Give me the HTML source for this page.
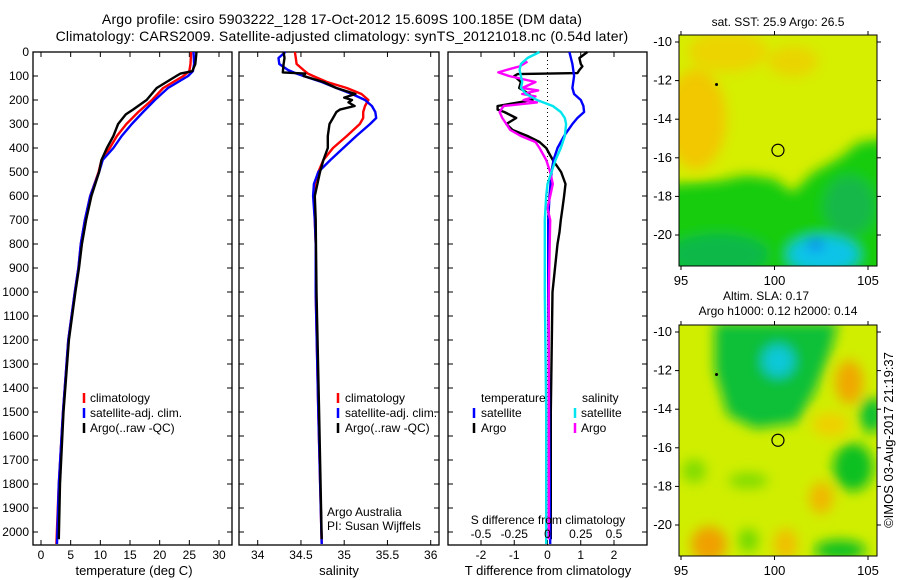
<!DOCTYPE html>
<html><head><meta charset="utf-8"><style>
html,body{margin:0;padding:0;background:#fff;}
svg{display:block;font-family:"Liberation Sans",sans-serif;}
text{font-size:12px;fill:#000;}
text.big{font-size:14px;letter-spacing:0.2px;}
text.ax{font-size:13px;}
</style></head><body>
<svg id="c" width="900" height="580" xmlns="http://www.w3.org/2000/svg">
<defs>
<filter id="bl" x="-50%" y="-50%" width="200%" height="200%"><feGaussianBlur stdDeviation="6"/></filter>
<clipPath id="cm1"><rect x="679" y="35" width="198" height="231"/></clipPath>
<clipPath id="cm2"><rect x="679" y="325" width="198" height="231"/></clipPath>
</defs>
<text class="big" x="342" y="24" text-anchor="middle">Argo profile: csiro 5903222_128 17-Oct-2012 15.609S 100.185E (DM data)</text>
<text class="big" x="342" y="41" text-anchor="middle">Climatology: CARS2009. Satellite-adjusted climatology: synTS_20121018.nc (0.54d later)</text>
<g id="p1"></g>
<g id="p2"></g>
<g id="p3"></g>
<g id="m1"></g>
<g id="m2"></g>
<text class="ax" transform="translate(893,440) rotate(-90)" text-anchor="middle">©IMOS 03-Aug-2017 21:19:37</text>
</svg>
<script>
// ---- data ----
const tDepth = [0,50,80,100,150,200,250,300,350,400,450,500,600,700,800,900,1000,1200,1500,1800,2050];
const tClim = [25.3,25.2,25.0,24.0,20.6,18.7,16.4,14.4,12.8,11.6,10.2,9.7,8.3,7.4,6.7,6.3,5.7,4.6,3.7,3.0,2.6];
const tSat = [25.7,25.8,25.6,24.8,21.4,19.2,17.2,15.3,13.6,12.2,10.4,9.8,8.3,7.4,6.7,6.3,5.7,4.6,3.7,3.0,2.7];
const tArgoDepth = [0,50,80,90,100,150,200,240,260,300,350,400,450,500,600,700,800,900,1000,1200,1500,1800,2030];
const tArgo = [26.2,26.0,25.5,23.5,22.8,19.5,17.8,15.5,14.3,13.0,12.2,11.1,10.2,9.8,8.5,7.6,6.9,6.4,5.8,4.7,3.8,3.2,3.0];

const sDepth = [0,25,50,75,90,100,125,150,175,200,225,250,275,300,350,400,450,500,550,600,700,800,1000,1500,2050];
const sClim = [34.43,34.44,34.45,34.53,34.58,34.64,34.80,35.03,35.20,35.28,35.24,35.22,35.22,35.18,35.03,34.87,34.76,34.70,34.66,34.65,34.66,34.67,34.67,34.70,34.74];
const sSat = [34.32,34.24,34.25,34.35,34.45,34.53,34.74,34.91,35.09,35.24,35.32,35.36,35.37,35.30,35.14,34.99,34.84,34.70,34.65,34.64,34.66,34.67,34.67,34.70,34.74];
const sArgoDepth = [0,25,50,85,90,100,125,150,175,190,200,210,225,240,250,275,300,350,400,450,500,600,700,1000,1500,2030];
const sArgo = [34.30,34.31,34.30,34.29,34.55,34.53,34.76,34.91,35.13,35.00,35.09,35.05,35.12,34.95,34.91,34.87,34.83,34.81,34.81,34.76,34.72,34.66,34.67,34.68,34.71,34.74];

const dtSatDepth = [0,50,100,150,175,200,225,250,275,300,350,400,450,500,600,700,1000,1500,2050];
const dtSat = [0.66,0.75,0.8,0.75,0.8,1.0,1.08,1.1,0.9,0.75,0.5,0.3,0.18,0.12,0.06,0.02,0.02,0.05,0.08];
const dtArgoDepth = [0,25,50,60,75,88,92,100,125,150,175,200,225,240,250,275,300,325,350,375,400,450,500,550,600,650,700,750,800,1000,1500,2030];
const dtArgo = [1.2,0.96,1.0,1.05,0.96,0.9,-0.9,-1.0,-0.8,-0.85,-0.55,-0.45,-1.5,-1.5,-1.3,-0.94,-1.24,-1.05,-0.6,-0.24,-0.04,0.16,0.41,0.54,0.5,0.45,0.4,0.36,0.3,0.15,0.1,0.1];
const dsSatDepth = [0,25,50,75,100,125,150,175,200,225,250,275,300,350,400,450,500,550,600,700,1000,1500,2050];
const dsSat = [-0.06,-0.15,-0.2,-0.21,-0.2,-0.19,-0.2,-0.16,-0.08,0.04,0.1,0.13,0.14,0.13,0.1,0.06,0.03,0,-0.01,-0.02,-0.02,-0.01,-0.01];
const dsArgoDepth = [40,60,75,85,100,125,150,160,175,185,200,210,225,250,275,300,325,350,375,400,450,500,550,600,650,700,1000,1500,2030];
const dsArgo = [-0.15,-0.21,-0.31,-0.37,-0.29,-0.09,-0.19,-0.07,-0.19,-0.09,-0.18,-0.08,-0.33,-0.36,-0.34,-0.31,-0.28,-0.2,-0.09,-0.06,-0.01,0.02,0.04,0.02,0,0.02,0.01,0.01,0.01];

const tTicks = [0,5,10,15,20,25,30];
const sTicks = [34,34.5,35,35.5,36];
const dtTicks = [-2,-1,0,1,2];
const dsTicks = [-0.5,-0.25,0,0.25,0.5];
const dsTickLabels = ['-0.5','-0.25','0','0.25','0.5'];
const depthTicks = [0,100,200,300,400,500,600,700,800,900,1000,1100,1200,1300,1400,1500,1600,1700,1800,1900,2000];
const lonTicks = [95,100,105];
const latTicks = [-10,-12,-14,-16,-18,-20];

// ---- helpers ----
const NS='http://www.w3.org/2000/svg';
function mk(tag, attrs, parent){const e=document.createElementNS(NS,tag);for(const k in attrs)e.setAttribute(k,attrs[k]);parent.appendChild(e);return e;}
const TOP=52, BOT=545;
const yD = d => TOP + d*0.24;
function lin(v0,p0,v1,p1){return v=>p0+(v-v0)*(p1-p0)/(v1-v0);}
const xT = lin(0,41,30,219);
const xS = lin(34,257.7,36,430.7);
const xDT = lin(-2,481,2,614);
const xDS = lin(-0.5,481,0.5,614);

function frame(g,x0,x1,name){
  const r=mk('rect',{x:x0,y:TOP,width:x1-x0,height:BOT-TOP,fill:'none',stroke:'#000','stroke-width':1.3},g);
  
  
}
function yTicks(g,x0,x1,labels){
  depthTicks.forEach(d=>{
    const y=yD(d);
    mk('line',{x1:x0,y1:y,x2:x0+5,y2:y,stroke:'#000'},g);
    mk('line',{x1:x1,y1:y,x2:x1-5,y2:y,stroke:'#000'},g);
    if(labels){const t=mk('text',{x:x0-4,y:y+4,'text-anchor':'end'},g);t.textContent=d;
      
      }
  });
}
function xTicks(g,ticks,fx,labs,top){
  ticks.forEach((v,i)=>{
    const x=fx(v);
    mk('line',{x1:x,y1:BOT,x2:x,y2:BOT-5,stroke:'#000'},g);
    if(top) mk('line',{x1:x,y1:TOP,x2:x,y2:TOP+5,stroke:'#000'},g);
    if(labs){const t=mk('text',{x:x,y:559,'text-anchor':'middle'},g);t.textContent=labs[i];
      
      }
  });
}
function line(g,xs,ds,fx,color,name){
  const pts=xs.map((v,i)=>fx(v).toFixed(1)+','+yD(ds[i]).toFixed(1)).join(' ');
  const p=mk('polyline',{points:pts,fill:'none',stroke:color,'stroke-width':2.4,'stroke-linejoin':'round'},g);
  
  
}
function label(g,x,y,txt,name,anchor,cls){
  const t=mk('text',{x:x,y:y,'text-anchor':anchor||'start'},g);t.textContent=txt;
  if(cls) t.setAttribute('class',cls);
  
  
}
function dash(g,x,y,color){
  const l=mk('line',{x1:x,y1:y-10,x2:x,y2:y,stroke:color,'stroke-width':2.5},g);
  
  
}

// ---- panel 1 ----
const p1=document.getElementById('p1');
frame(p1,33,232,'temperature-axes');
yTicks(p1,33,232,true);
xTicks(p1,tTicks,xT,tTicks.map(String),true);
line(p1,tClim,tDepth,xT,'#ff0000','temp-climatology-line');
line(p1,tSat,tDepth,xT,'#0000ff','temp-satellite-line');
line(p1,tArgo,tArgoDepth,xT,'#000000','temp-argo-line');
label(p1,134,575,'temperature (deg C)','x-axis-title','middle','ax');
[['#ff0000','climatology',402],['#0000ff','satellite-adj. clim.',417],['#000000','Argo(..raw -QC)',432]].forEach(r=>{dash(p1,84,r[2]+1,r[0]);label(p1,90,r[2],r[1],'legend-entry');});

// ---- panel 2 ----
const p2=document.getElementById('p2');
frame(p2,239,439,'salinity-axes');
yTicks(p2,239,439,false);
xTicks(p2,sTicks,xS,['34','34.5','35','35.5','36'],true);
line(p2,sClim,sDepth,xS,'#ff0000','sal-climatology-line');
line(p2,sSat,sDepth,xS,'#0000ff','sal-satellite-line');
line(p2,sArgo,sArgoDepth,xS,'#000000','sal-argo-line');
label(p2,339,575,'salinity','x-axis-title','middle','ax');
[['#ff0000','climatology',402],['#0000ff','satellite-adj. clim.',417],['#000000','Argo(..raw -QC)',432]].forEach(r=>{dash(p2,338,r[2]+1,r[0]);label(p2,345,r[2],r[1],'legend-entry');});
label(p2,327,516,'Argo Australia','credit-line-1');
label(p2,327,530,'PI: Susan Wijffels','credit-line-2');

// ---- panel 3 ----
const p3=document.getElementById('p3');
frame(p3,448,647,'difference-axes');
yTicks(p3,448,647,false);
xTicks(p3,dtTicks,xDT,dtTicks.map(String),true);
mk('line',{x1:xDT(0),y1:TOP,x2:xDT(0),y2:BOT,stroke:'#000','stroke-dasharray':'1,3'},p3);
line(p3,dtArgo,dtArgoDepth,xDT,'#000000','tdiff-argo-line');
line(p3,dtSat,dtSatDepth,xDT,'#0000ff','tdiff-satellite-line');
line(p3,dsArgo,dsArgoDepth,xDS,'#ff00ff','sdiff-argo-line');
line(p3,dsSat,dsSatDepth,xDS,'#00e5ee','sdiff-satellite-line');
label(p3,548,524,'S difference from climatology','s-diff-axis-title','middle');
dsTicks.forEach((v,i)=>label(p3,xDS(v),538,dsTickLabels[i],'s-diff-tick-label','middle'));
label(p3,548,575,'T difference from climatology','x-axis-title','middle','ax');
label(p3,481,402,'temperature','legend-header');
label(p3,582,402,'salinity','legend-header');
dash(p3,474,418,'#0000ff');label(p3,481,417,'satellite','legend-entry');
dash(p3,474,433,'#000000');label(p3,481,432,'Argo','legend-entry');
dash(p3,575,418,'#00e5ee');label(p3,581,417,'satellite','legend-entry');
dash(p3,575,433,'#ff00ff');label(p3,581,432,'Argo','legend-entry');

// ---- maps ----
function map(g,top,clip,title,shapes){
  const lx=lon=>681+(lon-95)*18.7, ly=lat=>top+7+(-10-lat)*19.3;
  const cg=mk('g',{'clip-path':'url(#'+clip+')'},g);
  shapes(cg,lx,ly);
  mk('circle',{cx:lx(100.185),cy:ly(-15.609),r:6,fill:'none',stroke:'#000','stroke-width':1.2},g);
  mk('circle',{cx:lx(96.9),cy:ly(-12.2),r:1.5,fill:'#000'},g);
  const r=mk('rect',{x:679,y:top,width:198,height:231,fill:'none',stroke:'#000'},g);
  
  
  lonTicks.forEach(v=>{mk('line',{x1:lx(v),y1:top,x2:lx(v),y2:top-4,stroke:'#000'},g);mk('line',{x1:lx(v),y1:top+231,x2:lx(v),y2:top+235,stroke:'#000'},g);label(g,lx(v),top+250,String(v),'lon-tick-label','middle','ax');});
  latTicks.forEach(v=>{mk('line',{x1:679,y1:ly(v),x2:675,y2:ly(v),stroke:'#000'},g);mk('line',{x1:877,y1:ly(v),x2:881,y2:ly(v),stroke:'#000'},g);label(g,672,ly(v)+4,String(v),'lat-tick-label','end','ax');});
  title.forEach((t,i)=>label(g,t[1],t[2],t[0],'map-title','middle'));
}
map(document.getElementById('m1'),35,'cm1',[['sat. SST: 25.9 Argo: 26.5',778,26]],(g,lx,ly)=>{
  mk('rect',{x:670,y:25,width:220,height:250,fill:'#d6ee00'},g);
  const b=mk('g',{filter:'url(#bl)'},g);
  mk('ellipse',{cx:lx(95.8),cy:ly(-14),rx:30,ry:50,fill:'#f2c800'},b);
  mk('ellipse',{cx:lx(97.5),cy:ly(-10.5),rx:40,ry:20,fill:'#ecd400'},b);
  mk('ellipse',{cx:lx(101),cy:ly(-11),rx:25,ry:15,fill:'#ead400'},b);
  const pts=[[94,-17.4],[97,-17.2],[98.5,-16.9],[100,-17.1],[101,-17.8],[102,-16.8],[103.5,-16],[104.5,-15.2],[106,-15],[106,-23],[94,-23]];
  mk('polygon',{points:pts.map(p=>lx(p[0])+','+ly(p[1])).join(' '),fill:'#18cc10'},b);
  mk('ellipse',{cx:lx(97),cy:ly(-21),rx:50,ry:20,fill:'#10b84a'},b);
  mk('ellipse',{cx:lx(104),cy:ly(-18.5),rx:25,ry:30,fill:'#14b848'},b);
  mk('ellipse',{cx:lx(102.6),cy:ly(-21),rx:35,ry:18,fill:'#10c4e8'},b);
  mk('ellipse',{cx:lx(102.2),cy:ly(-20.5),rx:8,ry:6,fill:'#1080f0'},b);
});
map(document.getElementById('m2'),325,'cm2',[['Altim. SLA: 0.17',766,300],['Argo h1000: 0.12 h2000: 0.14',778,315]],(g,lx,ly)=>{
  mk('rect',{x:670,y:315,width:220,height:250,fill:'#d0ee00'},g);
  const b=mk('g',{filter:'url(#bl)'},g);
  const pts=[[96.8,-9.5],[103.4,-9.5],[103,-11],[102.2,-13],[101.2,-14.7],[99,-15],[97.5,-14.3],[96.8,-12]];
  mk('polygon',{points:pts.map(p=>lx(p[0])+','+ly(p[1])).join(' '),fill:'#10c038'},b);
  mk('ellipse',{cx:lx(100.2),cy:ly(-11.5),rx:16,ry:16,fill:'#10c8d8'},b);
  mk('ellipse',{cx:lx(104),cy:ly(-12.6),rx:14,ry:22,fill:'#f0a800'},b);
  mk('ellipse',{cx:lx(103),cy:ly(-14.8),rx:18,ry:12,fill:'#f0d000'},b);
  mk('ellipse',{cx:lx(96.5),cy:ly(-21),rx:18,ry:18,fill:'#f0a000'},b);
  mk('ellipse',{cx:lx(100.6),cy:ly(-21),rx:12,ry:16,fill:'#f0c000'},b);
  mk('ellipse',{cx:lx(102.5),cy:ly(-18.6),rx:12,ry:16,fill:'#f0b800'},b);
  mk('ellipse',{cx:lx(104.2),cy:ly(-17),rx:20,ry:24,fill:'#10c020'},b);
  mk('ellipse',{cx:lx(105.2),cy:ly(-14.3),rx:12,ry:18,fill:'#10c030'},b);
  mk('ellipse',{cx:lx(103.5),cy:ly(-21.3),rx:26,ry:10,fill:'#10c020'},b);
  mk('ellipse',{cx:lx(95.7),cy:ly(-17.2),rx:12,ry:12,fill:'#80dc00'},b);
  mk('ellipse',{cx:lx(98.6),cy:ly(-17.7),rx:20,ry:8,fill:'#80dc00'},b);
  mk('ellipse',{cx:lx(98.6),cy:ly(-20.8),rx:10,ry:12,fill:'#70d800'},b);
});
</script>
</body></html>
